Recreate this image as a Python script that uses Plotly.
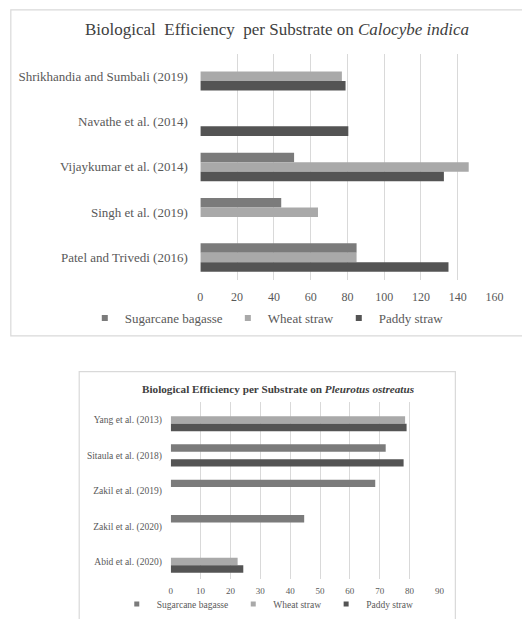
import plotly.graph_objects as go

W, H = 522, 619

# ---- Data: Calocybe indica (top chart) ----
cats_top = ["Shrikhandia and Sumbali (2019)", "Navathe et al. (2014)",
            "Vijaykumar et al. (2014)", "Singh et al. (2019)", "Patel and Trivedi (2016)"]
sugarcane_top = [None, None, 51, 44, 85]
wheat_top = [77, None, 146, 64, 85]
paddy_top = [79, 80.5, 132.5, None, 135]
ticks_top = [0, 20, 40, 60, 80, 100, 120, 140, 160]

# ---- Data: Pleurotus ostreatus (bottom chart) ----
cats_bot = ["Yang et al. (2013)", "Sitaula et al. (2018)", "Zakil et al. (2019)",
            "Zakil et al. (2020)", "Abid et al. (2020)"]
sugarcane_bot = [None, 72, 68.5, 44.7, None]
wheat_bot = [78.5, None, None, None, 22.4]
paddy_bot = [79, 78, None, None, 24.3]
ticks_bot = [0, 10, 20, 30, 40, 50, 60, 70, 80, 90]

series = ["Sugarcane bagasse", "Wheat straw", "Paddy straw"]
colors = ["#7b7b7b", "#a9a9a9", "#545454"]

SERIF = "Liberation Serif"
TXT = "#595959"


def px(x):
    return x / W


def py(y):
    return 1 - y / H


fig = go.Figure()

for name, vals, col in zip(series, [sugarcane_top, wheat_top, paddy_top], colors):
    fig.add_trace(go.Bar(y=cats_top, x=vals, name=name, orientation="h",
                         marker=dict(color=col, line=dict(width=0)),
                         xaxis="x", yaxis="y", showlegend=False))

for name, vals, col in zip(series, [sugarcane_bot, wheat_bot, paddy_bot], colors):
    fig.add_trace(go.Bar(y=cats_bot, x=vals, name=name, orientation="h",
                         marker=dict(color=col, line=dict(width=0)),
                         xaxis="x2", yaxis="y2", showlegend=False))

# legend entries (small square keys, as in the reference)
for name, col in zip(series, colors):
    fig.add_trace(go.Scatter(x=[None], y=[None], mode="markers", name=name,
                             marker=dict(symbol="square", size=6, color=col),
                             xaxis="x", yaxis="y", legend="legend"))
for name, col in zip(series, colors):
    fig.add_trace(go.Scatter(x=[None], y=[None], mode="markers", name=name,
                             marker=dict(symbol="square", size=5, color=col),
                             xaxis="x2", yaxis="y2", legend="legend2"))

grid = "#d9d9d9"

fig.update_layout(
    width=W, height=H,
    margin=dict(l=0, r=0, t=0, b=0),
    paper_bgcolor="white", plot_bgcolor="white",
    barmode="group", bargap=0.37, bargroupgap=0,
    font=dict(family=SERIF, color=TXT),
    xaxis=dict(domain=[px(202), px(503)], range=[0, 160], tickvals=ticks_top,
               showgrid=True, gridcolor=grid, gridwidth=1, zeroline=False,
               showline=False, ticks="outside", ticklen=5, tickcolor="rgba(0,0,0,0)",
               tickfont=dict(size=12, family=SERIF, color=TXT), anchor="y"),
    yaxis=dict(domain=[py(282), py(54)], categoryorder="array", categoryarray=cats_top,
               autorange="reversed", showgrid=False, zeroline=False, showline=False,
               ticks="outside", ticklen=9, tickcolor="rgba(0,0,0,0)",
               tickfont=dict(size=13, family=SERIF, color=TXT), anchor="x"),
    xaxis2=dict(domain=[px(171.7), px(446.7)], range=[0, 90], tickvals=ticks_bot,
                showgrid=True, gridcolor=grid, gridwidth=1, zeroline=False,
                showline=False, ticks="outside", ticklen=3, tickcolor="rgba(0,0,0,0)",
                tickfont=dict(size=9, family=SERIF, color=TXT), anchor="y2"),
    yaxis2=dict(domain=[py(583), py(405)], categoryorder="array", categoryarray=cats_bot,
                autorange="reversed", showgrid=False, zeroline=False, showline=False,
                ticks="outside", ticklen=6, tickcolor="rgba(0,0,0,0)",
                tickfont=dict(size=9.5, family=SERIF, color=TXT), anchor="x2"),
    legend=dict(orientation="h", x=px(270), y=py(320), xanchor="center", yanchor="middle",
                font=dict(size=13, family=SERIF, color=TXT), bgcolor="rgba(0,0,0,0)",
                itemwidth=30, tracegroupgap=0),
    legend2=dict(orientation="h", x=px(271), y=py(608), xanchor="center", yanchor="middle",
                 font=dict(size=9.5, family=SERIF, color=TXT), bgcolor="rgba(0,0,0,0)",
                 itemwidth=30, tracegroupgap=0),
    shapes=[
        dict(type="rect", xref="paper", yref="paper", x0=px(8), x1=px(560),
             y0=py(338), y1=py(10), line=dict(color="#d9d9d9", width=1.2), layer="below"),
        dict(type="rect", xref="paper", yref="paper", x0=px(78), x1=px(463),
             y0=py(640), y1=py(374), line=dict(color="#d9d9d9", width=1.2), layer="below"),
    ],
    annotations=[
        dict(text="Biological  Efficiency  per Substrate on <i>Calocybe indica</i>",
             xref="paper", yref="paper", x=px(280), y=py(30), xanchor="center",
             yanchor="middle", showarrow=False,
             font=dict(size=17, family=SERIF, color="#404040")),
        dict(text="<b>Biological Efficiency per Substrate on <i>Pleurotus ostreatus</i></b>",
             xref="paper", yref="paper", x=px(282), y=py(392), xanchor="center",
             yanchor="middle", showarrow=False,
             font=dict(size=11.2, family=SERIF, color="#404040")),
    ],
)

fig.write_html("out.html")
